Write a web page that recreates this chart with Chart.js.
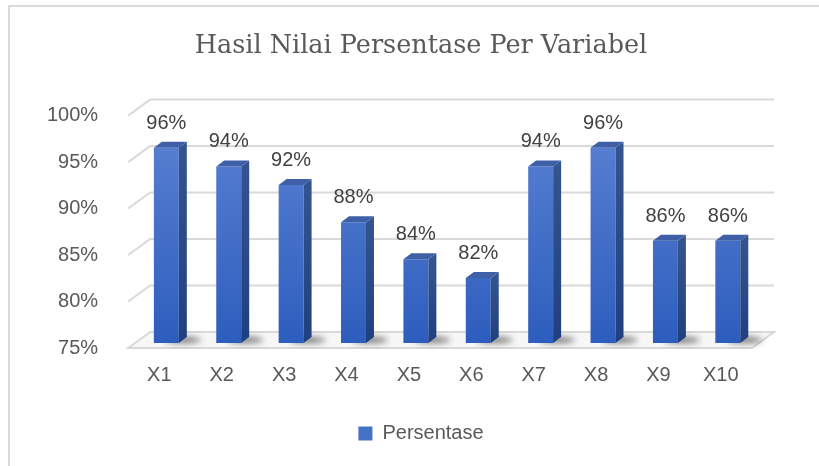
<!DOCTYPE html>
<html>
<head>
<meta charset="utf-8">
<script src="https://cdn.jsdelivr.net/npm/chart.js@4"></script>
<style>
  html, body { margin: 0; padding: 0; background: #fff; }
  #wrap { position: relative; width: 819px; height: 466px; }
</style>
</head>
<body>
<div id="wrap"><canvas id="chart"></canvas></div>
<script>
// --- données ---
const categories = ['X1', 'X2', 'X3', 'X4', 'X5', 'X6', 'X7', 'X8', 'X9', 'X10'];
const persentase = [96, 94, 92, 88, 84, 82, 94, 96, 86, 86];
const yTicks = [75, 80, 85, 90, 95, 100];

// --- effet 3D ---
const WALL_DX = 22, WALL_DY = -16;   // profondeur du mur du fond
const BAR_OFF_X = 7, BAR_OFF_Y = -5; // décalage de la face avant des barres
const BAR_DX = 8, BAR_DY = -6;       // épaisseur des barres
const GRID = '#d9d9d9';
const TEXT = '#595959';

const threeD = {
    id: 'threeD',
    beforeDraw(chart) {
        const ctx = chart.ctx;
        ctx.save();
        ctx.fillStyle = '#fff';
        ctx.fillRect(0, 0, chart.width, chart.height);
        // cadre du graphique
        ctx.strokeStyle = GRID;
        ctx.lineWidth = 2;
        ctx.beginPath();
        ctx.moveTo(chart.width, 6);
        ctx.lineTo(9, 6);
        ctx.lineTo(9, chart.height);
        ctx.stroke();
        ctx.restore();
    },
    beforeDatasetsDraw(chart) {
        const { ctx, chartArea: a, scales: { y } } = chart;
        ctx.save();
        // sol
        ctx.beginPath();
        ctx.moveTo(a.left, a.bottom);
        ctx.lineTo(a.right, a.bottom);
        ctx.lineTo(a.right + WALL_DX, a.bottom + WALL_DY);
        ctx.lineTo(a.left + WALL_DX, a.bottom + WALL_DY);
        ctx.closePath();
        ctx.fillStyle = '#f7f7f7';
        ctx.fill();
        ctx.strokeStyle = GRID;
        ctx.lineWidth = 2;
        ctx.stroke();
        // quadrillage du fond + paroi gauche
        yTicks.slice(1).forEach(v => {
            const yy = y.getPixelForValue(v);
            ctx.beginPath();
            ctx.moveTo(a.left, yy);
            ctx.lineTo(a.left + WALL_DX, yy + WALL_DY);
            ctx.lineTo(a.right + WALL_DX, yy + WALL_DY);
            ctx.stroke();
        });
        // ombres des barres sur le sol
        const meta = chart.getDatasetMeta(0);
        const floorY = y.getPixelForValue(yTicks[0]);
        ctx.filter = 'blur(3px)';
        ctx.fillStyle = 'rgba(0,0,0,0.55)';
        meta.data.forEach(el => {
            const right = el.x + el.width / 2 + BAR_OFF_X;
            ctx.beginPath();
            ctx.ellipse(right + 4, floorY + BAR_OFF_Y - 3, 18, 3, 0, 0, Math.PI * 2);
            ctx.fill();
        });
        ctx.filter = 'none';
        ctx.restore();
        ctx.save();
        ctx.translate(BAR_OFF_X, BAR_OFF_Y);
    },
    afterDatasetsDraw(chart) {
        const ctx = chart.ctx;
        ctx.restore();
        const meta = chart.getDatasetMeta(0);
        const floorY = chart.scales.y.getPixelForValue(yTicks[0]);
        ctx.save();
        meta.data.forEach((el, i) => {
            const left = el.x - el.width / 2 + BAR_OFF_X;
            const right = el.x + el.width / 2 + BAR_OFF_X;
            const top = el.y + BAR_OFF_Y;
            const base = floorY + BAR_OFF_Y;
            // face latérale
            const gs = ctx.createLinearGradient(0, top, 0, base);
            gs.addColorStop(0, '#34548f');
            gs.addColorStop(1, '#203f80');
            ctx.fillStyle = gs;
            ctx.beginPath();
            ctx.moveTo(right, top);
            ctx.lineTo(right + BAR_DX, top + BAR_DY);
            ctx.lineTo(right + BAR_DX, base + BAR_DY);
            ctx.lineTo(right, base);
            ctx.closePath();
            ctx.fill();
            // dessus
            ctx.fillStyle = '#3f5fa6';
            ctx.beginPath();
            ctx.moveTo(left, top);
            ctx.lineTo(left + BAR_DX, top + BAR_DY);
            ctx.lineTo(right + BAR_DX, top + BAR_DY);
            ctx.lineTo(right, top);
            ctx.closePath();
            ctx.fill();
            // étiquette
            ctx.fillStyle = '#404040';
            ctx.font = '20px "Liberation Sans", Arial, sans-serif';
            ctx.textAlign = 'center';
            ctx.textBaseline = 'alphabetic';
            ctx.fillText(persentase[i] + '%', el.x + BAR_OFF_X, top - 19);
        });
        ctx.restore();
    }
};

new Chart(document.getElementById('chart'), {
    type: 'bar',
    data: {
        labels: categories,
        datasets: [{
            label: 'Persentase',
            data: persentase,
            backgroundColor: (c) => {
                const { ctx, chartArea } = c.chart;
                if (!chartArea || c.type !== 'data') return '#4472c4';
                const g = ctx.createLinearGradient(0, chartArea.top, 0, chartArea.bottom);
                g.addColorStop(0, '#5d84d4');
                g.addColorStop(1, '#2d5dbd');
                return g;
            },
            borderWidth: 0,
            categoryPercentage: 1,
            barPercentage: 0.4
        }]
    },
    options: {
        responsive: true,
        maintainAspectRatio: false,
        animation: false,
        layout: { padding: { left: 25, right: 2, top: 0, bottom: 12.5 } },
        plugins: {
            title: {
                display: true,
                text: 'Hasil Nilai Persentase Per Variabel',
                color: TEXT,
                font: { family: '"DejaVu Serif", serif', size: 25.5, weight: 'normal' },
                padding: { top: 31, bottom: 54 }
            },
            legend: {
                position: 'bottom',
                labels: {
                    color: TEXT,
                    font: { family: '"Liberation Sans", Arial, sans-serif', size: 20 },
                    boxWidth: 14,
                    boxHeight: 14,
                    padding: 29.5,
                    generateLabels: (chart) => [{
                        text: 'Persentase',
                        fillStyle: '#4472c4',
                        strokeStyle: '#4472c4',
                        lineWidth: 0,
                        fontColor: TEXT,
                        datasetIndex: 0
                    }]
                }
            },
            tooltip: { enabled: false }
        },
        scales: {
            y: {
                min: 75,
                max: 100,
                grid: { display: false },
                border: { display: false },
                ticks: {
                    stepSize: 5,
                    padding: 22,
                    color: TEXT,
                    font: { family: '"Liberation Sans", Arial, sans-serif', size: 20 },
                    callback: v => v + '%'
                }
            },
            // axe vide à droite : réserve la marge droite du graphique
            yRight: {
                position: 'right',
                grid: { display: false },
                border: { display: false },
                ticks: { display: false },
                afterFit: (axis) => { axis.width = 65; }
            },
            x: {
                grid: { display: false },
                border: { display: false },
                ticks: {
                    padding: 7,
                    color: TEXT,
                    font: { family: '"Liberation Sans", Arial, sans-serif', size: 20 }
                }
            }
        }
    },
    plugins: [threeD]
});
</script>
</body>
</html>
